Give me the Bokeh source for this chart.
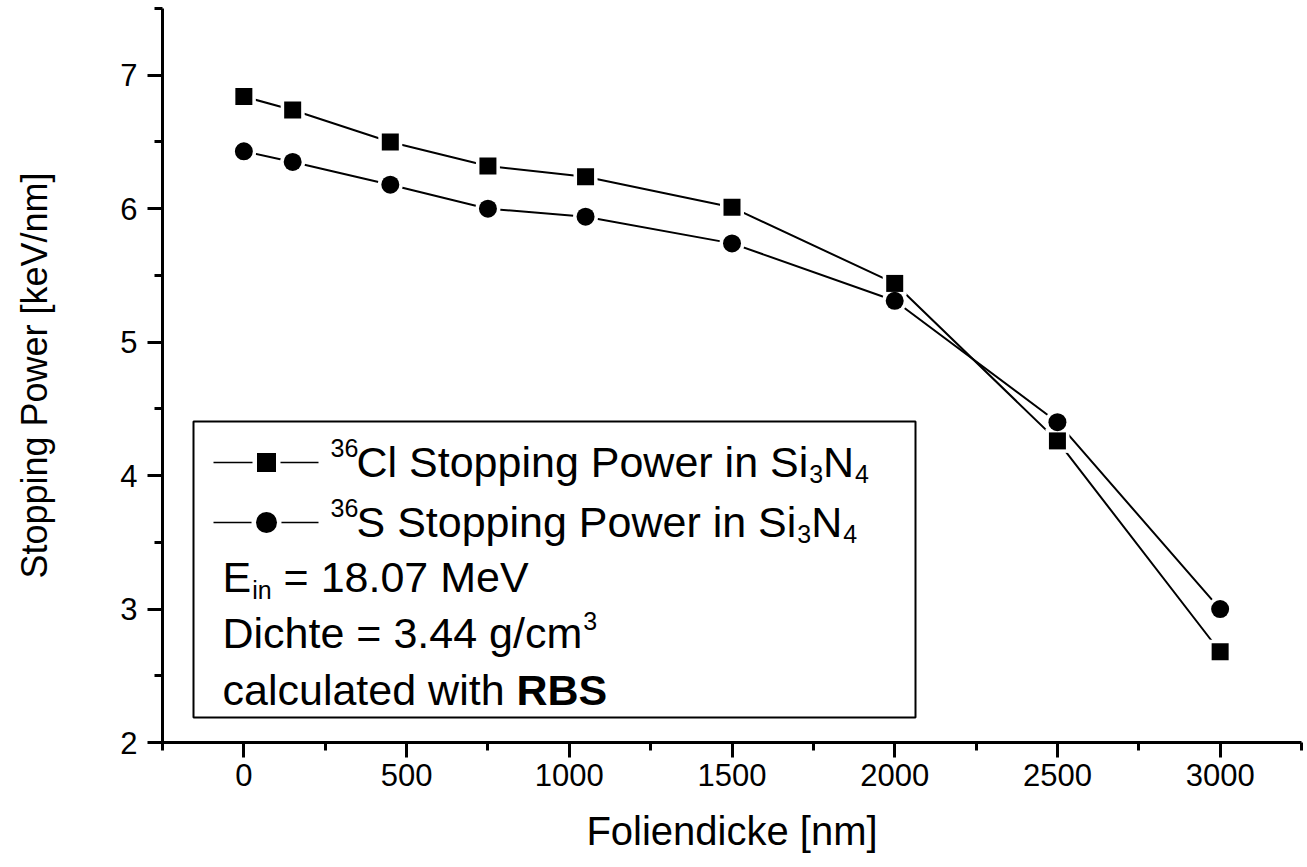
from bokeh.plotting import figure
from bokeh.models import Label, SingleIntervalTicker, Range1d
from bokeh.embed import file_html
from bokeh.resources import INLINE

# ---- data ----
foliendicke = [0, 150, 450, 750, 1050, 1500, 2000, 2500, 3000]
cl_stopping = [6.84, 6.74, 6.50, 6.32, 6.24, 6.01, 5.44, 4.26, 2.68]
s_stopping = [6.43, 6.35, 6.18, 6.00, 5.94, 5.74, 5.31, 4.40, 3.00]
x_label = "Foliendicke [nm]"
y_label = "Stopping Power [keV/nm]"

# ---- layout ----
W, H = 1307, 867
BL, BR, BT, BB = 162, 6, 8, 125
XMIN, XMAX = -250, 3250
YMIN, YMAX = 2, 7.5
FW = W - BL - BR
FH = H - BT - BB
FONT = "Liberation Sans"

def X(px):
    return XMIN + (px - BL) / FW * (XMAX - XMIN)

def Y(py):
    return YMIN + ((H - BB) - py) / FH * (YMAX - YMIN)

# Arial / Liberation Sans advance widths (em)
AW = {' ': .278, '.': .278, '=': .584, '/': .278, 'C': .722, 'S': .667, 'P': .667,
      'N': .722, 'E': .667, 'D': .722, 'M': .833, 'V': .667, 'R': .722, 'B': .722,
      'a': .556, 'c': .5, 'd': .556, 'e': .556, 'g': .556, 'h': .556, 'i': .222,
      'k': .5, 'l': .222, 'm': .833, 'n': .556, 'o': .556, 'p': .556, 'r': .333,
      't': .278, 'u': .556, 'w': .722, 'v': .5}
AWB = {'R': .722, 'B': .722, 'S': .667}

def tw(s, size, bold=False):
    tot = 0
    for ch in s:
        if ch.isdigit():
            tot += .556
        elif bold and ch in AWB:
            tot += AWB[ch]
        else:
            tot += AW.get(ch, .556)
    return tot * size

p = figure(width=W, height=H, output_backend="svg", toolbar_location=None,
           x_range=Range1d(XMIN, XMAX), y_range=Range1d(YMIN, YMAX),
           min_border_left=BL, min_border_right=BR, min_border_top=BT,
           min_border_bottom=BB)
p.outline_line_color = None
p.xgrid.visible = False
p.ygrid.visible = False
p.background_fill_color = "white"
p.border_fill_color = "white"

p.xaxis.ticker = SingleIntervalTicker(interval=500, num_minor_ticks=2)
p.yaxis.ticker = SingleIntervalTicker(interval=1, num_minor_ticks=2)
for ax in (p.xaxis[0], p.yaxis[0]):
    ax.axis_line_width = 3
    ax.axis_line_color = "black"
    ax.major_tick_line_width = 3
    ax.minor_tick_line_width = 3
    ax.major_tick_line_color = "black"
    ax.minor_tick_line_color = "black"
    ax.major_tick_in = 0
    ax.minor_tick_in = 0
    ax.major_tick_out = 15
    ax.minor_tick_out = 8
    ax.major_label_text_font = FONT
    ax.major_label_text_font_size = "31px"
    ax.major_label_text_color = "black"
    ax.axis_label_text_font = FONT
    ax.axis_label_text_font_style = "normal"
    ax.axis_label_text_color = "black"
p.xaxis.axis_label = x_label
p.yaxis.axis_label = y_label
p.xaxis.axis_label_text_font_size = "40px"
p.yaxis.axis_label_text_font_size = "36px"
p.xaxis.major_label_standoff = 6
p.yaxis.major_label_standoff = 10
p.xaxis.axis_label_standoff = 20
p.yaxis.axis_label_standoff = 62

# ---- data series ----
p.line(foliendicke, cl_stopping, line_color="black", line_width=2)
p.line(foliendicke, s_stopping, line_color="black", line_width=2)
p.scatter(foliendicke, cl_stopping, marker="square", size=24, fill_color="white", line_color=None)
p.scatter(foliendicke, s_stopping, marker="circle", size=25, fill_color="white", line_color=None)
p.scatter(foliendicke, cl_stopping, marker="square", size=17, fill_color="black", line_color=None)
p.scatter(foliendicke, s_stopping, marker="circle", size=18, fill_color="black", line_color=None)

# ---- legend box ----
p.quad(left=[X(193)], right=[X(915)], top=[Y(421)], bottom=[Y(717)],
       fill_color="white", line_color="black", line_width=2)

for ly, mk, sz in ((462, "square", 19), (522, "circle", 21)):
    p.line([X(213)], [Y(ly)], line_color="black", line_width=2)
    p.line([X(213), X(318)], [Y(ly), Y(ly)], line_color="black", line_width=1.5)
    p.scatter([X(266)], [Y(ly)], marker=mk, size=sz + 9, fill_color="white", line_color=None)
    p.scatter([X(266)], [Y(ly)], marker=mk, size=sz, fill_color="black", line_color=None)

LF = 43
SF = 25
DY = -16

def put(text, px, base, size, bold=False):
    p.add_layout(Label(x=X(px), y=Y(base + DY), text=text, text_font=FONT,
                       text_font_size=f"{size}px", text_color="black",
                       text_font_style="bold" if bold else "normal",
                       text_align="left", text_baseline="alphabetic"))
    return px + tw(text, size, bold)

# row 1
put("36", 330, 463, SF)
x = put("Cl Stopping Power in Si", 356, 477, LF)
x = put("3", x + 1, 489, SF)
x = put("N", x, 477, LF)
put("4", x + 1, 489, SF)
# row 2
put("36", 330, 523, SF)
x = put("S Stopping Power in Si", 356, 537, LF)
x = put("3", x + 1, 549, SF)
x = put("N", x, 537, LF)
put("4", x + 1, 549, SF)
# row 3
x = put("E", 222, 592, LF)
x = put("in", x + 1, 605, SF)
put("= 18.07 MeV", x + tw(" ", LF), 592, LF)
# row 4
x = put("Dichte = 3.44 g/cm", 222, 648, LF)
put("3", x + 1, 636, SF)
# row 5
x = put("calculated with", 222, 705, LF)
put("RBS", x + tw(" ", LF), 705, LF, bold=True)

open("out.html", "w").write(file_html(p, INLINE))
